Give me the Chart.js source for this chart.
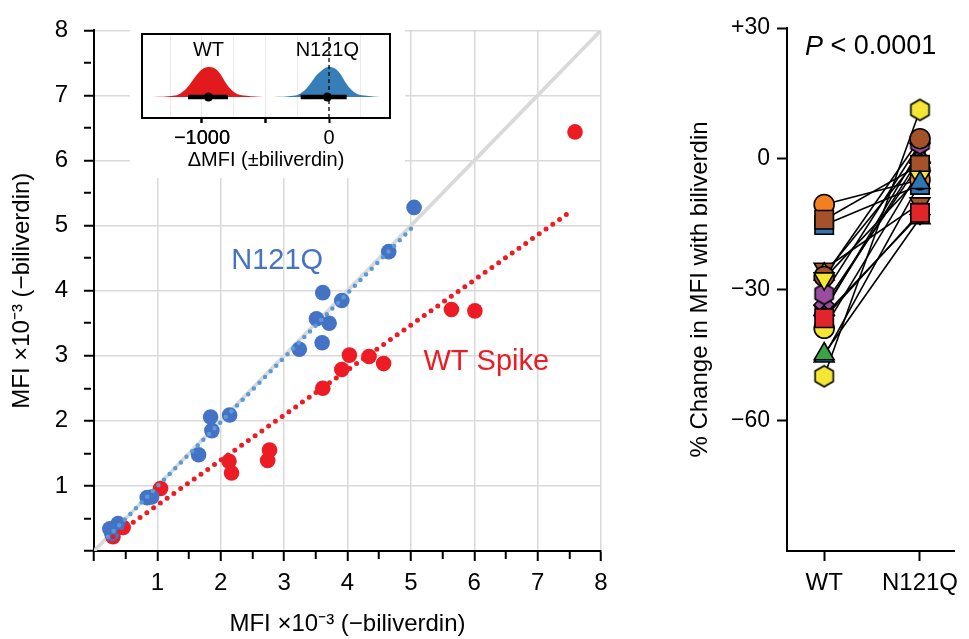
<!DOCTYPE html>
<html><head><meta charset="utf-8">
<script src="https://cdn.jsdelivr.net/npm/chart.js@4.4.1/dist/chart.umd.min.js"></script>
<style>
html,body{margin:0;padding:0;background:#fff;}
#wrap{position:relative;width:969px;height:639px;overflow:hidden;background:#fff;}
canvas{position:absolute;}
#cLeft{left:0;top:0;}
#cRight{left:660px;top:0;}
#cInset{left:130px;top:26px;background:#fff;}
</style></head><body>
<div id="wrap">
<canvas id="cLeft" width="660" height="639"></canvas>
<canvas id="cRight" width="309" height="639"></canvas>
<canvas id="cInset" width="275" height="152"></canvas>
</div>
<script>
const FONT = "'Liberation Sans', Arial, Helvetica, sans-serif";
Chart.defaults.font.family = FONT;
Chart.defaults.color = '#000';
Chart.defaults.animation = false;

// ---------- Left scatter: MFI x10^-3 (-biliverdin) vs (+biliverdin)
const axisTicks = [1, 2, 3, 4, 5, 6, 7, 8];
const n121qX = [5.05, 4.65, 3.91, 3.61, 3.51, 3.71, 3.60, 3.24, 2.14, 1.84, 1.86, 1.65, 0.91, 0.84, 0.38, 0.28, 0.25];
const n121qY = [5.28, 4.60, 3.85, 3.97, 3.57, 3.50, 3.20, 3.10, 2.09, 2.06, 1.85, 1.48, 0.83, 0.82, 0.42, 0.27, 0.34];
const wtX = [7.59, 6.01, 5.64, 4.57, 4.34, 4.03, 3.91, 3.61, 2.77, 2.74, 2.17, 2.13, 1.05, 0.46, 0.30];
const wtY = [6.44, 3.69, 3.71, 2.88, 2.99, 3.01, 2.79, 2.50, 1.55, 1.39, 1.20, 1.38, 0.96, 0.36, 0.22];
const identityX = [0, 8];
const identityY = [0, 8];
const n121qFitX = [0.22, 5.02];
const n121qFitY = [0.22, 4.97];
const wtFitX = [0.30, 7.54];
const wtFitY = [0.22, 5.23];
const seriesNames = ['N121Q', 'WT Spike'];
const seriesNameX = [2.89, 6.19];
const seriesNameY = [4.46, 2.90];
const seriesColors = ['#4472c4', '#ed1c24'];

// ---------- Inset: ΔMFI (±biliverdin) distributions
const insetGroups = ['WT', 'N121Q'];
const insetTicks = [-1000, -500, 0];
const insetTickLabels = ['\u22121000', '', '0'];
const insetGrid = [-1250, -1000, -750, -500, -250, 250];
const wtDensX = [-1383, -1226, -1173, -1121, -1081, -1042, -1003, -950, -898, -858, -819, -780, -727, -648, -517];
const wtDensY = [0, 0.04, 0.11, 0.29, 0.51, 0.73, 0.91, 1.0, 0.95, 0.78, 0.51, 0.29, 0.11, 0.04, 0];
const n121qDensX = [-438, -281, -228, -176, -136, -97, -50, -5, 47, 87, 126, 165, 218, 297, 402];
const n121qDensY = [0, 0.04, 0.11, 0.29, 0.51, 0.73, 0.91, 1.0, 0.95, 0.78, 0.51, 0.29, 0.11, 0.04, 0];
const insetMean = [-949, -13];
const insetCiLow = [-1110, -223];
const insetCiHigh = [-795, 139];

// ---------- Right: paired % change (drawn bottom -> top)
const pairedGroups = ['WT', 'N121Q'];
const pairedTicks = [30, 0, -30, -60];
const pairedShape = ['rect','triDown','triDown','triangle','circle','triangle','rectRot','hexagon','circle','circle','rect','triDown','triangle','triangle','rectRot','rect','hexagon'];
const pairedColor = ['#2e75b6','#a5522a','#2e75b6','#e8e23a','#f5e636','#9a4c9e','#9a4c9e','#9a4c9e','#a5522a','#f47f20','#a5522a','#f5e636','#2e75b6','#3aa346','#1f3f7a','#e2242b','#f5e636'];
const pairedWT    = [-15.2, -25.3, -35.0, -26.5, -38.9, -34.5, -33.5, -31.0, -27.0, -10.5, -14.0, -27.5, -45.3, -44.8, -36.0, -36.6, -49.9];
const pairedN121Q = [ -6.0, -10.3,   2.2,   0.6,  -2.5,   0.3,  -1.0,   3.5,   4.6,  -4.8,  -1.4,  -4.2,  -5.5, -13.6, -12.8, -12.4,  11.2];

const pts = (xs, ys) => xs.map((x, i) => ({x: x, y: ys[i]}));
const isInt = v => Math.abs(v - Math.round(v)) < 1e-9;

// ================= LEFT CHART =================
const minorMajor = [0].concat(...axisTicks.map(v => [v - 0.5, v]));
function mainAxis(pos) {
  const horiz = pos === 'bottom';
  return {
    type: 'linear', position: pos, min: 0, max: 8,
    afterBuildTicks: s => { s.ticks = minorMajor.map(v => ({value: v})); },
    afterFit: s => { if (horiz) s.height = 88; else s.width = 94; },
    ticks: {
      autoSkip: false, maxRotation: 0,
      font: {size: 24}, padding: horiz ? 8 : 16,
      callback: v => axisTicks.includes(v) ? String(v) : ''
    },
    grid: {
      color: c => (c.tick && isInt(c.tick.value) && c.tick.value > 0) ? '#d9d9d9' : 'rgba(0,0,0,0)',
      lineWidth: 1.5,
      tickColor: '#000', tickWidth: 2, tickLength: 10,
      tickBorderDash: c => (c.tick && isInt(c.tick.value)) ? [] : [7, 60]
    },
    border: {display: true, color: '#000', width: 2},
    title: {display: true, text: 'MFI \u00d710\u207b\u00b3 (\u2212biliverdin)', font: {size: 24},
            padding: horiz ? {top: 0, bottom: 0} : {top: 8, bottom: 0}}
  };
}
const seriesLabelPlugin = {
  id: 'seriesLabels',
  afterDatasetsDraw(chart) {
    const {ctx, scales: {x, y}} = chart;
    ctx.save();
    ctx.font = '29px ' + FONT;
    ctx.textAlign = 'center';
    ctx.textBaseline = 'middle';
    seriesNames.forEach((t, i) => {
      ctx.fillStyle = seriesColors[i];
      ctx.fillText(t, x.getPixelForValue(seriesNameX[i]), y.getPixelForValue(seriesNameY[i]));
    });
    ctx.restore();
  }
};
new Chart(document.getElementById('cLeft'), {
  type: 'scatter',
  data: {datasets: [
    {type: 'line', data: pts(identityX, identityY), borderColor: '#d9d9d9', borderWidth: 3.8, pointRadius: 0, order: 5},
    {data: pts(wtX, wtY), pointBackgroundColor: seriesColors[1], pointBorderWidth: 0, pointRadius: 7.8, order: 4},
    {data: pts(n121qX, n121qY), pointBackgroundColor: seriesColors[0], pointBorderWidth: 0, pointRadius: 7.8, order: 3},
    {type: 'line', data: pts(wtFitX, wtFitY), borderColor: '#ed1c24', borderWidth: 5, borderDash: [0, 8.3], borderCapStyle: 'round', pointRadius: 0, order: 2},
    {type: 'line', data: pts(n121qFitX, n121qFitY), borderColor: '#5b9bd5', borderWidth: 4.5, borderDash: [0, 8], borderCapStyle: 'round', pointRadius: 0, order: 1}
  ]},
  options: {
    responsive: false, devicePixelRatio: 1, animation: false,
    layout: {padding: {left: 0, top: 22, right: 59, bottom: 0}},
    plugins: {legend: {display: false}, tooltip: {enabled: false}},
    scales: {x: mainAxis('bottom'), y: mainAxis('left')}
  },
  plugins: [seriesLabelPlugin]
});

// ================= INSET =================
const insetDecor = {
  id: 'insetDecor',
  afterDatasetsDraw(chart) {
    const {ctx, scales: {x, y}} = chart;
    ctx.save();
    ctx.font = '20px ' + FONT;
    ctx.fillStyle = '#000';
    ctx.textAlign = 'center';
    ctx.textBaseline = 'middle';
    insetGroups.forEach((g, i) => ctx.fillText(g, x.getPixelForValue(insetMean[i]), y.getPixelForValue(1.55)));
    ctx.restore();
  },
  afterDraw(chart) {
    const {ctx, chartArea: a} = chart;
    ctx.save();
    ctx.strokeStyle = '#000';
    ctx.lineWidth = 2;
    ctx.strokeRect(a.left, a.top, a.right - a.left, a.bottom - a.top);
    ctx.restore();
  }
};
const insetDatasets = [
  {data: pts(wtDensX, wtDensY), fill: 'origin', backgroundColor: '#e31a1c', borderColor: 'rgba(0,0,0,0)', borderWidth: 0, pointRadius: 0, cubicInterpolationMode: 'monotone', order: 6},
  {data: pts(n121qDensX, n121qDensY), fill: 'origin', backgroundColor: '#377eb8', borderColor: 'rgba(0,0,0,0)', borderWidth: 0, pointRadius: 0, cubicInterpolationMode: 'monotone', order: 6},
  {data: [{x: 0, y: -0.7}, {x: 0, y: 2.1}], borderColor: '#000', borderWidth: 1.3, borderDash: [4, 3], pointRadius: 0, order: 3}
];
insetGroups.forEach((g, i) => {
  insetDatasets.push({data: [{x: insetCiLow[i], y: 0}, {x: insetCiHigh[i], y: 0}], borderColor: '#000', borderWidth: 4.5, pointRadius: 0, order: 2});
  insetDatasets.push({data: [{x: insetMean[i], y: 0}], showLine: false, pointRadius: 4.5, pointBackgroundColor: '#000', pointBorderWidth: 0, order: 1});
});
new Chart(document.getElementById('cInset'), {
  type: 'line',
  data: {datasets: insetDatasets},
  options: {
    responsive: false, devicePixelRatio: 1, animation: false,
    layout: {padding: {left: 12, top: 8, right: 15, bottom: 0}},
    plugins: {legend: {display: false}, tooltip: {enabled: false}},
    scales: {
      x: {
        type: 'linear', min: -1472, max: 480,
        afterBuildTicks: s => { s.ticks = insetGrid.concat(insetTicks).sort((a, b) => a - b).map(v => ({value: v})); },
        afterFit: s => { s.height = 60; },
        ticks: {autoSkip: false, maxRotation: 0, font: {size: 20}, padding: 3,
                callback: v => { const k = insetTicks.indexOf(v); return k >= 0 ? insetTickLabels[k] : ''; }},
        grid: {
          color: c => (c.tick && c.tick.value === 0) ? 'rgba(0,0,0,0)' : '#ebebeb',
          lineWidth: 1,
          tickColor: c => (c.tick && insetTicks.includes(c.tick.value)) ? '#000' : 'rgba(0,0,0,0)',
          tickWidth: 2, tickLength: 5
        },
        border: {display: false},
        title: {display: true, text: '\u0394MFI (\u00b1biliverdin)', font: {size: 20}, padding: {top: 0, bottom: 6}}
      },
      y: {display: false, min: -0.7, max: 2.1}
    }
  },
  plugins: [insetDecor]
});

// ================= RIGHT CHART =================
function hexagon(color, r) {
  const s = Math.ceil(r * 2 + 4);
  const c = document.createElement('canvas');
  c.width = s; c.height = s;
  const g = c.getContext('2d');
  g.beginPath();
  for (let i = 0; i < 6; i++) {
    const a = Math.PI / 3 * i - Math.PI / 2;
    const px = s / 2 + r * Math.cos(a), py = s / 2 + r * Math.sin(a);
    if (i) g.lineTo(px, py); else g.moveTo(px, py);
  }
  g.closePath();
  g.fillStyle = color; g.fill();
  g.lineWidth = 1.6; g.strokeStyle = '#000'; g.stroke();
  return c;
}
const styleOf = (sh, col) => sh === 'hexagon' ? hexagon(col, 10.5) : (sh === 'triDown' ? 'triangle' : sh);
const radiusOf = sh => ({rect: 13, circle: 10, triangle: 11.5, triDown: 11.5, rectRot: 10, hexagon: 10.5})[sh];
const markerStyles = pairedShape.map((sh, i) => styleOf(sh, pairedColor[i]));
const markerRadius = pairedShape.map(radiusOf);
const markerRot = pairedShape.map(sh => sh === 'triDown' ? 180 : 0);

const rightDatasets = [];
pairedWT.forEach((v, i) => {
  rightDatasets.push({type: 'line', data: [{x: 0, y: v}, {x: 1, y: pairedN121Q[i]}], borderColor: '#000', borderWidth: 1.6, pointRadius: 0, order: 10});
});
[pairedWT, pairedN121Q].forEach((arr, g) => {
  rightDatasets.push({
    data: arr.map(v => ({x: g, y: v})), showLine: false,
    pointStyle: markerStyles, pointRadius: markerRadius, pointRotation: markerRot,
    pointBackgroundColor: pairedColor, pointBorderColor: '#000', pointBorderWidth: 1.6, order: 1
  });
});
const pLabel = {
  id: 'pLabel',
  afterDraw(chart) {
    const {ctx, chartArea: a} = chart;
    ctx.save();
    ctx.fillStyle = '#000';
    ctx.textBaseline = 'middle';
    ctx.textAlign = 'left';
    const x0 = a.left + 18, y0 = a.top + 19;
    ctx.font = 'italic 27px ' + FONT;
    ctx.fillText('P', x0, y0);
    const w = ctx.measureText('P').width;
    ctx.font = '27px ' + FONT;
    ctx.fillText(' < 0.0001', x0 + w, y0);
    ctx.restore();
  }
};
new Chart(document.getElementById('cRight'), {
  type: 'scatter',
  data: {datasets: rightDatasets},
  options: {
    responsive: false, devicePixelRatio: 1, animation: false,
    layout: {padding: {left: 0, top: 28, right: 11, bottom: 0}},
    plugins: {legend: {display: false}, tooltip: {enabled: false}},
    scales: {
      x: {
        type: 'linear', min: -0.388, max: 1.357,
        afterBuildTicks: s => { s.ticks = pairedGroups.map((g, i) => ({value: i})); },
        afterFit: s => { s.height = 88; },
        ticks: {autoSkip: false, maxRotation: 0, font: {size: 24}, padding: 8, callback: v => pairedGroups[v] !== undefined ? pairedGroups[v] : ''},
        grid: {drawOnChartArea: false, tickColor: '#000', tickWidth: 2, tickLength: 10},
        border: {display: true, color: '#000', width: 2}
      },
      y: {
        type: 'linear', min: -90, max: 30,
        afterBuildTicks: s => { s.ticks = pairedTicks.map(v => ({value: v})); },
        afterFit: s => { s.width = 127; },
        ticks: {font: {size: 23}, padding: 7, callback: v => v > 0 ? '+' + v : (v < 0 ? '\u2212' + Math.abs(v) : '0')},
        grid: {drawOnChartArea: false, tickColor: '#000', tickWidth: 2, tickLength: 10},
        border: {display: true, color: '#000', width: 2},
        title: {display: true, text: '% Change in MFI with biliverdin', font: {size: 24}, padding: {top: 26, bottom: 0}}
      }
    }
  },
  plugins: [pLabel]
});
</script>
</body></html>
